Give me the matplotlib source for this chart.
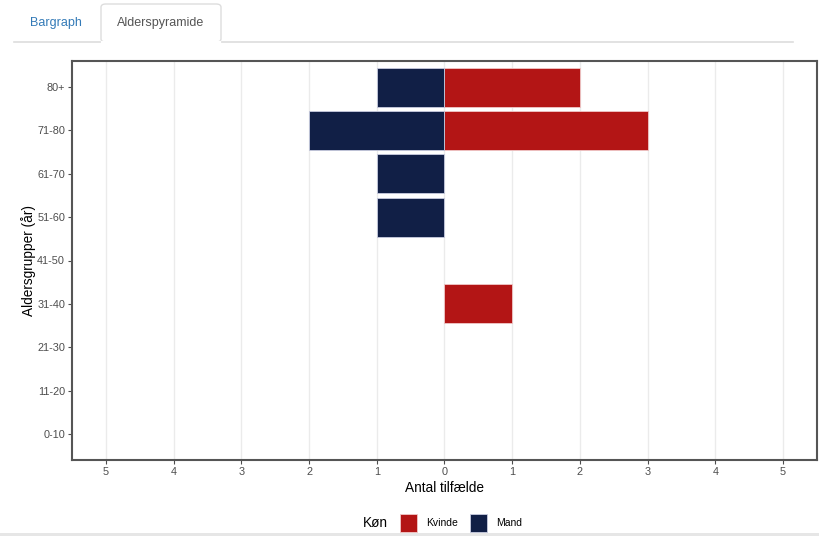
import matplotlib
matplotlib.use("Agg")
import matplotlib.pyplot as plt
from matplotlib.patches import Rectangle, FancyBboxPatch
import numpy as np

plt.rcParams['font.family'] = ['Liberation Sans', 'DejaVu Sans']

age_groups = ["0-10", "11-20", "21-30", "31-40", "41-50", "51-60", "61-70", "71-80", "80+"]
kvinde = [0, 0, 0, 1, 0, 0, 0, 3, 2]
mand = [0, 0, 0, 0, 0, 1, 1, 2, 1]
x_ticks = [-5, -4, -3, -2, -1, 0, 1, 2, 3, 4, 5]
x_tick_labels = ["5", "4", "3", "2", "1", "0", "1", "2", "3", "4", "5"]

red = "#B31515"
navy = "#111F46"

W, H = 820, 536
fig = plt.figure(figsize=(8.2, 5.36), dpi=100)

ax = fig.add_axes([72 / W, 1 - 460 / H, (817 - 72) / W, (460 - 61) / H])
y = np.arange(len(age_groups))
k = np.array(kvinde)
m = np.array(mand)
kmask = k != 0
mmask = m != 0
ax.barh(y[kmask], k[kmask], height=0.9, color=red, edgecolor="#f0c8c8", linewidth=0.6, zorder=3)
ax.barh(y[mmask], -m[mmask], height=0.9, color=navy, edgecolor="#c8cce0", linewidth=0.6, zorder=3)

ax.set_xlim(-5.5, 5.5)
ax.set_ylim(-0.6, len(age_groups) - 0.4)
ax.set_yticks(y)
ax.set_yticklabels(age_groups)
ax.set_xticks(x_ticks)
ax.set_xticklabels(x_tick_labels)
ax.grid(axis="x", color="#ebebeb", linewidth=1.0, zorder=0)
ax.set_axisbelow(True)
ax.tick_params(axis="both", labelsize=7.8, colors="#4d4d4d", length=3, width=0.8, pad=2)
for lbl in ax.get_xticklabels() + ax.get_yticklabels():
    lbl.set_color("#4d4d4d")
for s in ax.spines.values():
    s.set_color("#555555")
    s.set_linewidth(1.5)
ax.set_xlabel("Antal tilfælde", fontsize=9.8, color="black", labelpad=3)
ax.set_ylabel("Aldersgrupper (år)", fontsize=9.8, color="black", labelpad=1)

# Tabs header
fig.add_artist(plt.Line2D([14 / W, 793 / W], [1 - 42 / H, 1 - 42 / H], color="#dddddd", linewidth=1.2))
tab = FancyBboxPatch((101 / W, 1 - 42 / H), (221 - 101) / W, (42 - 4) / H,
                     boxstyle="round,pad=0,rounding_size=0.006", transform=fig.transFigure,
                     facecolor="white", edgecolor="#dddddd", linewidth=1.0)
fig.add_artist(tab)
fig.add_artist(plt.Line2D([101.8 / W, 220.2 / W], [1 - 42 / H, 1 - 42 / H], color="white", linewidth=1.6))
fig.text(56 / W, 1 - 23 / H, "Bargraph", fontsize=9, color="#337ab7", ha="center", va="center")
fig.text(161 / W, 1 - 23 / H, "Alderspyramide", fontsize=9, color="#555555", ha="center", va="center")

# Legend
ly = 1 - 523 / H
fig.text(375 / W, ly, "Køn", fontsize=9.8, color="black", ha="center", va="center")
fig.add_artist(Rectangle((400 / W, 1 - 532 / H), 17 / W, 18 / H, transform=fig.transFigure,
                         facecolor=red, edgecolor="#f0c8c8", linewidth=0.6))
fig.text(426 / W, ly, "Kvinde", fontsize=7.5, color="black", ha="left", va="center")
fig.add_artist(Rectangle((470 / W, 1 - 532 / H), 17 / W, 18 / H, transform=fig.transFigure,
                         facecolor=navy, edgecolor="#c8cce0", linewidth=0.6))
fig.text(496 / W, ly, "Mand", fontsize=7.5, color="black", ha="left", va="center")

# bottom gray strip
fig.add_artist(Rectangle((0, 0), 1, 3 / H, transform=fig.transFigure, facecolor="#e6e6e6", edgecolor="none"))

fig.savefig("out.png", dpi=100)
